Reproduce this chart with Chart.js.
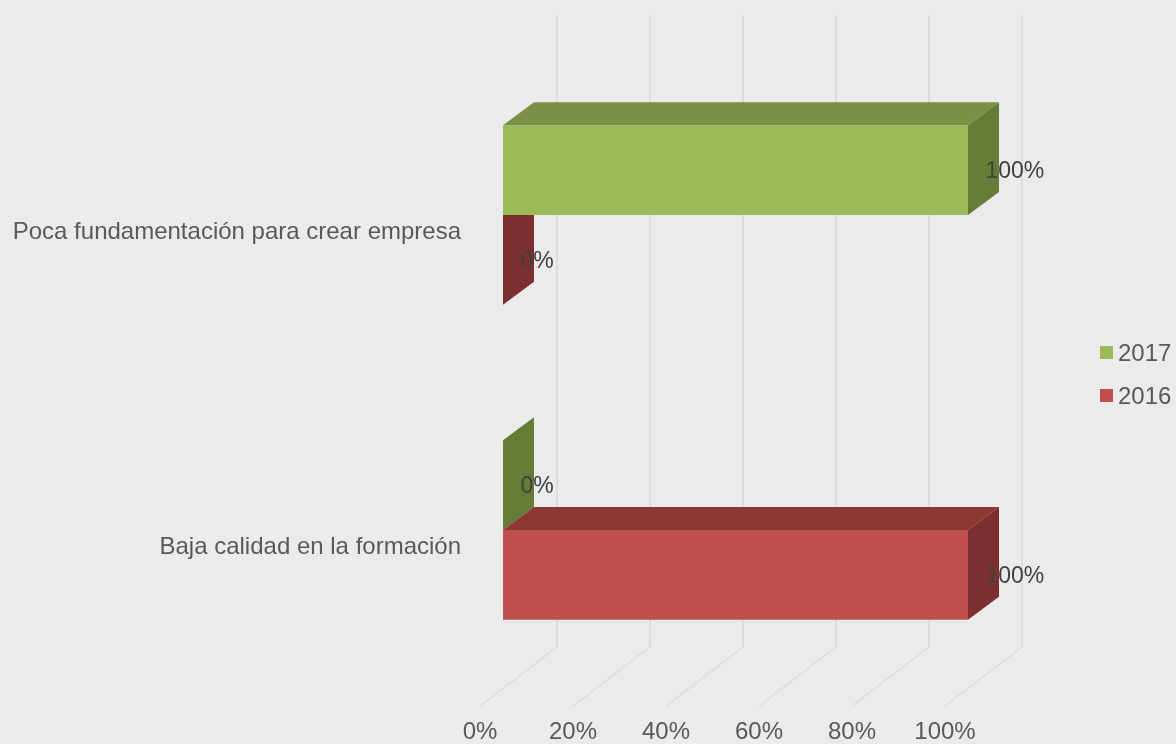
<!DOCTYPE html>
<html>
<head>
<meta charset="utf-8">
<title>Chart</title>
<script src="https://cdn.jsdelivr.net/npm/chart.js@4"></script>
<style>
  html, body { margin: 0; padding: 0; background: #ebebeb; }
  canvas { display: block; }
</style>
</head>
<body>
<canvas id="chart" width="1176" height="744"></canvas>
<script>
const categories = ["Poca fundamentación para crear empresa", "Baja calidad en la formación"];
const seriesNames = ["2017", "2016"];
const values2017 = [100, 0];
const values2016 = [0, 100];
const xTicks = [0, 20, 40, 60, 80, 100];

const font = "'Liberation Sans', Arial, sans-serif";
const depthX = 31;
const depthY = -23;

// front, top and side colours of each series
const faces = [
  { front: "#9bbb59", top: "#7b8f45", side: "#667b36" },
  { front: "#c0504d", top: "#8e3835", side: "#7d2f2f" }
];

function poly(ctx, color, pts) {
  ctx.fillStyle = color;
  ctx.beginPath();
  ctx.moveTo(pts[0][0], pts[0][1]);
  for (let i = 1; i < pts.length; i++) ctx.lineTo(pts[i][0], pts[i][1]);
  ctx.closePath();
  ctx.fill();
}

// wall and floor lines, then top and side faces of the bars.
// The front faces are drawn by Chart.js on top of all this.
const depthPlugin = {
  id: "depth3d",
  beforeDatasetsDraw(chart) {
    const ctx = chart.ctx;
    const x = chart.scales.x;
    ctx.save();
    ctx.strokeStyle = "#dcdcdc";
    xTicks.forEach(function(v) {
      const px = x.getPixelForValue(v);
      ctx.lineWidth = 2;
      ctx.beginPath();
      ctx.moveTo(px + 54, 15);
      ctx.lineTo(px + 54, 647);
      ctx.stroke();
      ctx.lineWidth = 1.5;
      ctx.beginPath();
      ctx.moveTo(px + 54, 647);
      ctx.lineTo(px - 23, 706);
      ctx.stroke();
    });
    chart.data.datasets.forEach(function(ds, i) {
      chart.getDatasetMeta(i).data.forEach(function(bar) {
        const t = bar.y - bar.height / 2;
        const b = bar.y + bar.height / 2;
        const l = bar.base;
        const r = bar.x;
        if (r > l) {
          poly(ctx, faces[i].top, [[l, t], [l + depthX, t + depthY], [r + depthX, t + depthY], [r, t]]);
        }
        poly(ctx, faces[i].side, [[r, t], [r + depthX, t + depthY], [r + depthX, b + depthY], [r, b]]);
      });
    });
    ctx.restore();
  }
};

// value labels and legend
const labelsPlugin = {
  id: "labels3d",
  afterDatasetsDraw(chart) {
    const ctx = chart.ctx;
    ctx.save();
    ctx.font = "23px " + font;
    ctx.fillStyle = "#404040";
    ctx.textAlign = "left";
    ctx.textBaseline = "middle";
    chart.data.datasets.forEach(function(ds, i) {
      chart.getDatasetMeta(i).data.forEach(function(bar, j) {
        ctx.fillText(ds.data[j] + "%", bar.x + 17.5, bar.y + 1.5);
      });
    });

    ctx.font = "24px " + font;
    seriesNames.forEach(function(name, i) {
      const y = 352 + i * 43;
      ctx.fillStyle = faces[i].front;
      ctx.fillRect(1100, y - 6, 13, 13);
      ctx.fillStyle = "#595959";
      ctx.fillText(name, 1118, y + 2);
    });
    ctx.restore();
  }
};

new Chart(document.getElementById("chart").getContext("2d"), {
  type: "bar",
  data: {
    labels: categories,
    datasets: [
      { label: seriesNames[0], data: values2017, backgroundColor: faces[0].front },
      { label: seriesNames[1], data: values2016, backgroundColor: faces[1].front }
    ]
  },
  options: {
    indexAxis: "y",
    responsive: false,
    animation: false,
    categoryPercentage: 0.57,
    barPercentage: 1,
    layout: { padding: { top: 57.5, right: 208, bottom: 0, left: 0 } },
    scales: {
      x: {
        min: 0,
        max: 100,
        afterFit: function(scale) { scale.height = 55; },
        grid: { display: false },
        border: { display: false },
        ticks: {
          stepSize: 20,
          maxRotation: 0,
          autoSkip: false,
          labelOffset: -23,
          padding: 22,
          color: "#595959",
          font: { family: font, size: 24 },
          callback: function(v) { return v + "%"; }
        }
      },
      y: {
        afterFit: function(scale) { scale.width = 503; },
        grid: { display: false, drawTicks: false },
        border: { display: false },
        ticks: {
          padding: 42,
          labelOffset: 17.5,
          color: "#595959",
          font: { family: font, size: 24 }
        }
      }
    },
    plugins: {
      legend: { display: false },
      tooltip: { enabled: false }
    }
  },
  plugins: [depthPlugin, labelsPlugin]
});
</script>
</body>
</html>
